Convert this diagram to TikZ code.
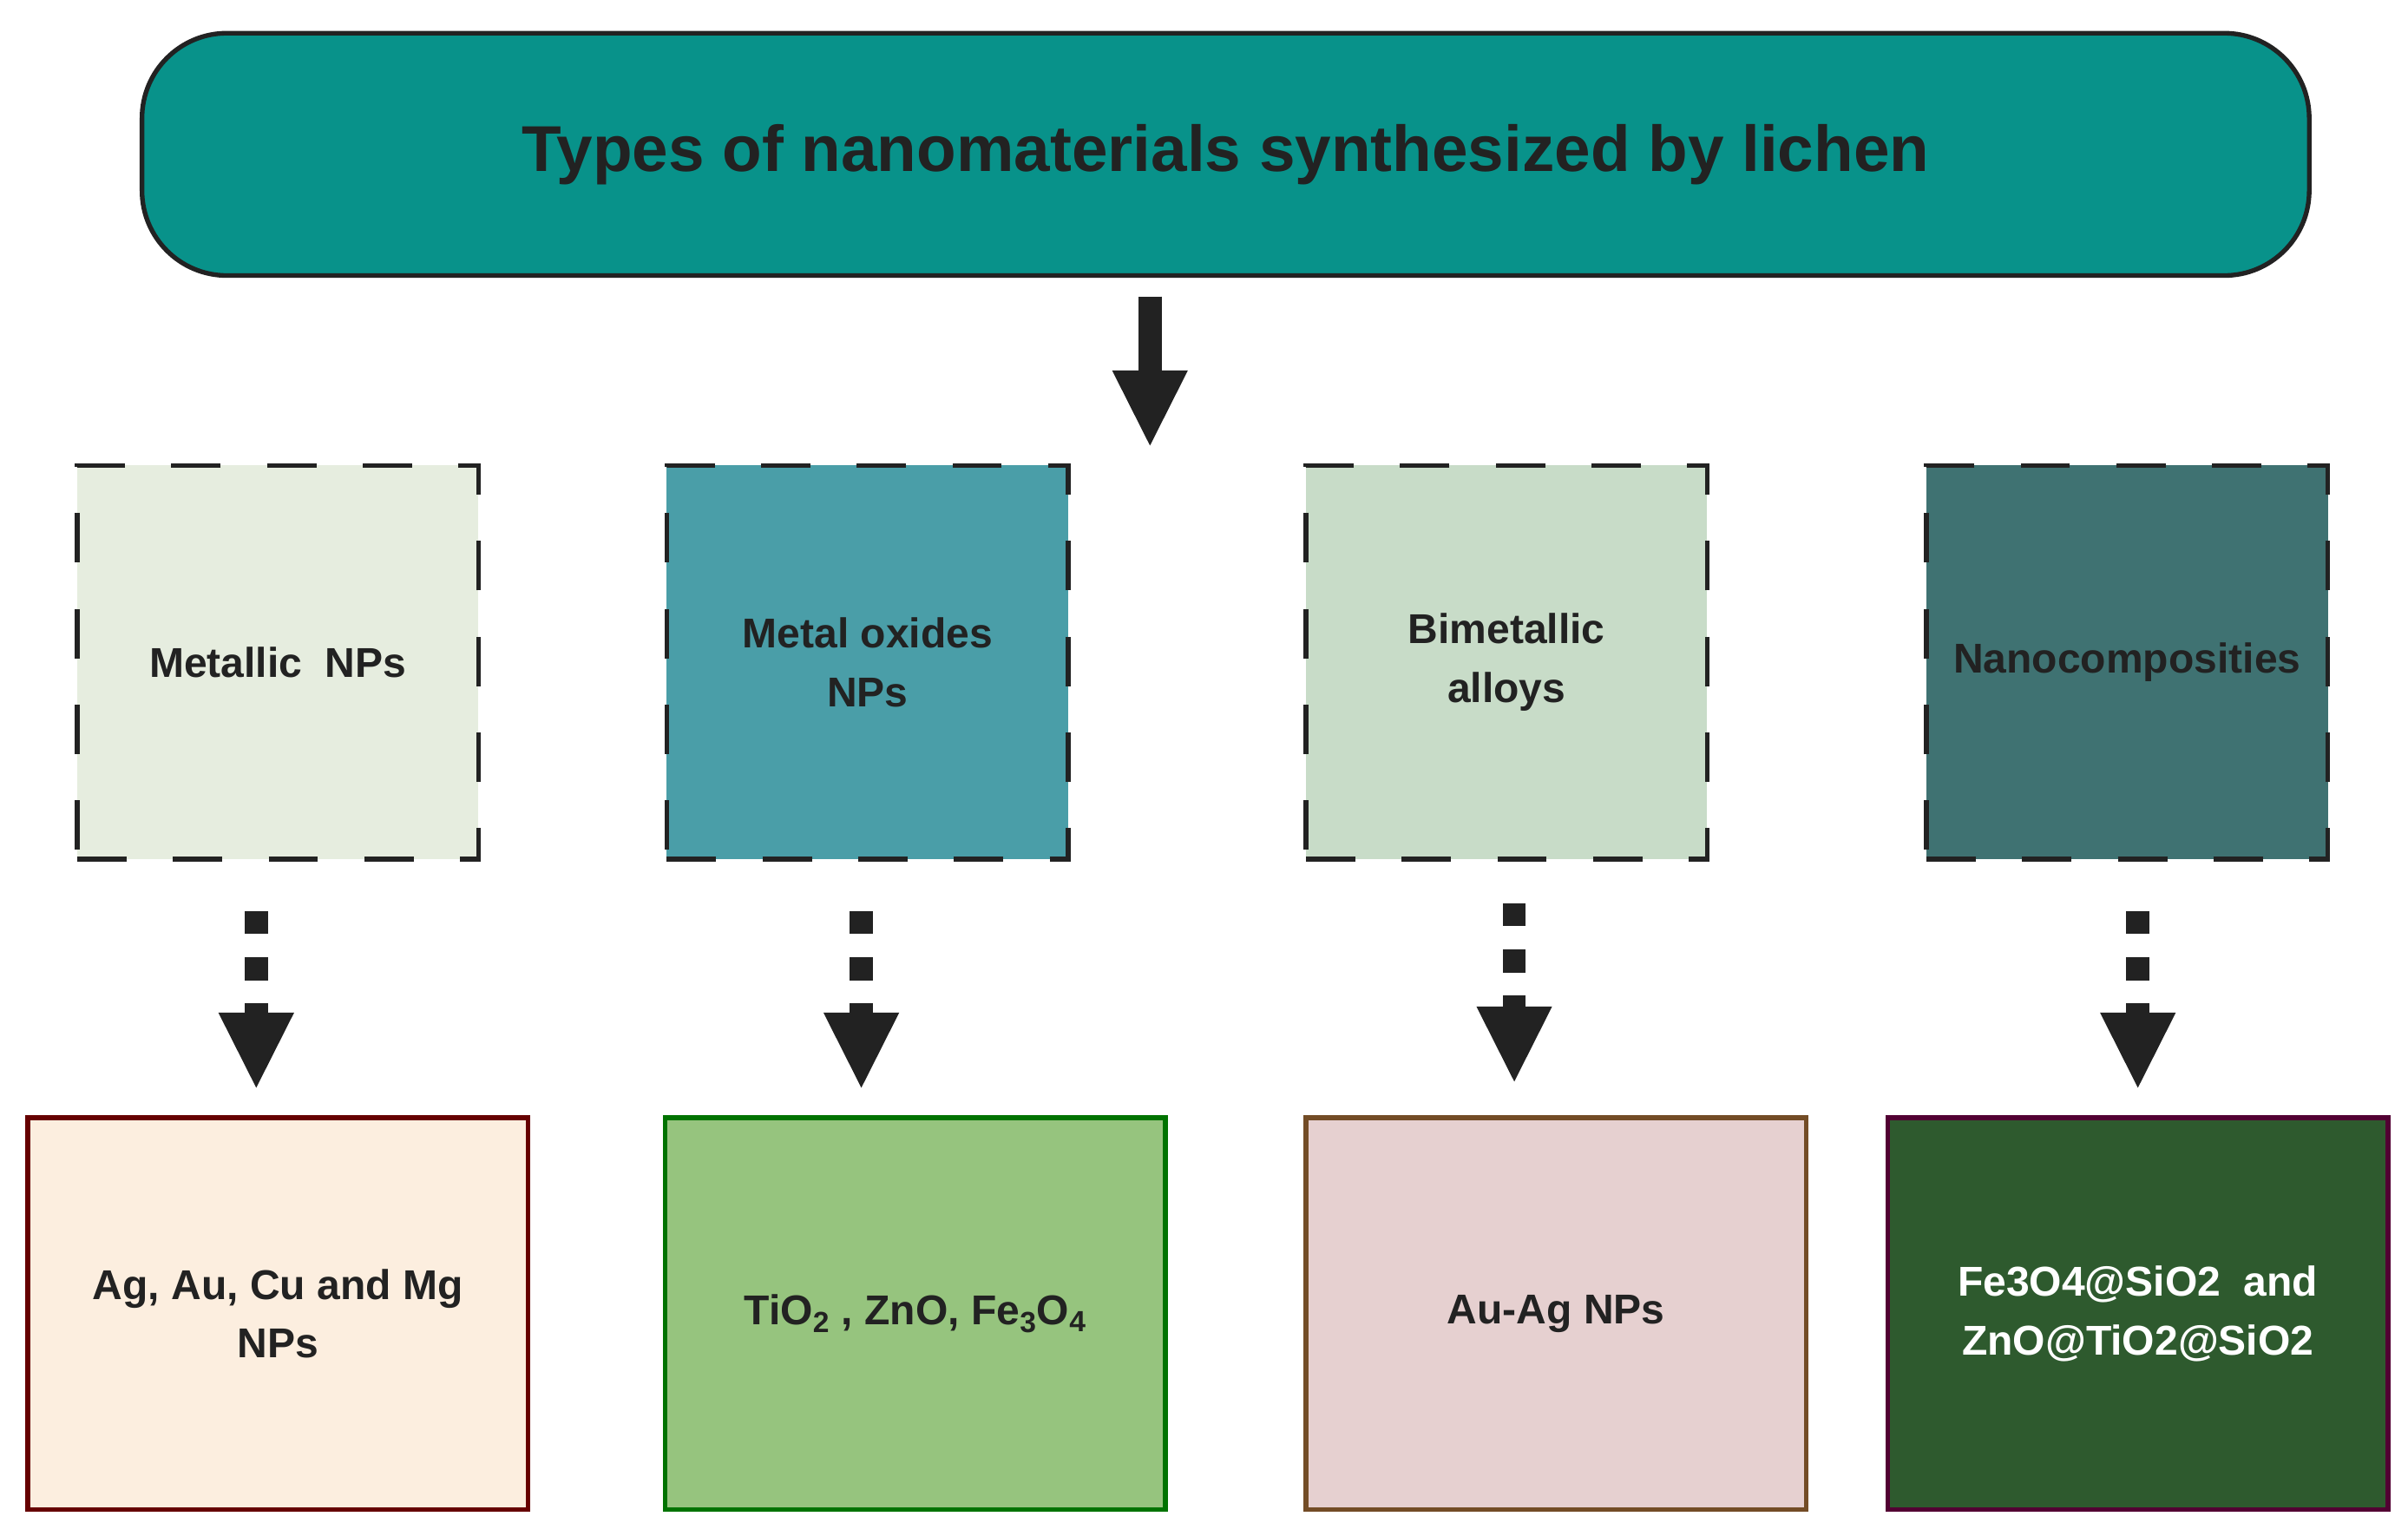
\documentclass[tikz,border=0pt]{standalone}
\usepackage{fontspec}
\setmainfont{Liberation Sans}
\usetikzlibrary{arrows.meta}
\definecolor{teal1}{HTML}{08928A}
\definecolor{c1}{HTML}{E6EDDF}
\definecolor{c2}{HTML}{4A9EA8}
\definecolor{c3}{HTML}{C8DCC8}
\definecolor{c4}{HTML}{3F7272}
\definecolor{b1}{HTML}{FCEEDF}
\definecolor{b2}{HTML}{96C47E}
\definecolor{b3}{HTML}{E6D0D0}
\definecolor{b4}{HTML}{2E5A2E}
\definecolor{ink}{HTML}{222222}
\begin{document}
\begin{tikzpicture}[x=1pt,y=-1pt,
  dbox/.style={draw=ink,line width=3pt,dash pattern=on 32pt off 30pt,minimum width=260pt,minimum height=255pt,inner sep=0pt,align=center,font=\bfseries\fontsize{27}{38}\selectfont,text=ink},
  bbox/.style={line width=3pt,minimum width=324pt,minimum height=254pt,inner sep=0pt,align=center,font=\bfseries\fontsize{27}{38}\selectfont,text=ink},
  darr/.style={ink,line width=15pt,dash pattern=on 15pt off 15pt,-{Triangle[width=45pt,length=50pt]}},
  sarr/.style={ink,line width=15pt,-{Triangle[width=45pt,length=50pt]}}]
\useasboundingbox (0,0) rectangle (1560,995);
\node[draw=ink,line width=3pt,fill=teal1,rounded corners=55pt,minimum width=1404pt,minimum height=157pt,font=\bfseries\fontsize{42}{48}\selectfont,text=ink] (title) at (794,100) {Types of nanomaterials synthesized by lichen};
\coordinate (t1) at (745,192);
\coordinate (t2) at (745,290);
\draw[sarr] (t1) -- (t2);
\node[dbox,fill=c1] (m1) at (180,429) {Metallic~ NPs};
\node[dbox,fill=c2] (m2) at (562,429) {Metal oxides\\NPs};
\node[dbox,fill=c3] (m3) at (976,429) {Bimetallic\\alloys};
\node[dbox,fill=c4] (m4) at (1378,429) {Nanocomposities};
\node[bbox,draw=red!40!black,fill=b1] (n1) at (180,851) {Ag, Au, Cu and Mg\\NPs};
\node[bbox,draw=green!45!black,fill=b2] (n2) at (593,851) {TiO\textsubscript{2} , ZnO, Fe\textsubscript{3}O\textsubscript{4}};
\node[bbox,draw=brown!60!black,fill=b3] (n3) at (1008,851) {Au-Ag NPs};
\node[bbox,draw=red!40!black!80!blue,fill=b4,text=white] (n4) at (1385,851) {Fe3O4@SiO2~ and\\ZnO@TiO2@SiO2};
\draw[darr] (166,590) -- (166,706);
\draw[darr] (558,590) -- (558,706);
\draw[darr] (981,585) -- (981,702);
\draw[darr] (1385,590) -- (1385,706);
\end{tikzpicture}
\end{document}
